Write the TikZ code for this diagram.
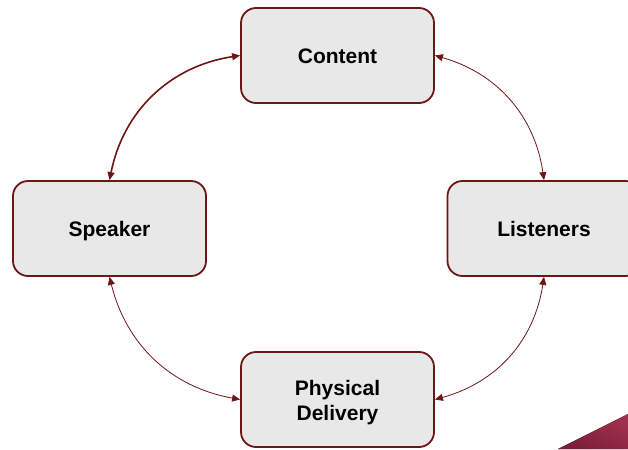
\documentclass[tikz,border=0pt]{standalone}
\usepackage{fontspec}
\setmainfont{Liberation Sans}
\usetikzlibrary{arrows.meta,shapes.misc}
\definecolor{maroon}{HTML}{6E1515}
\definecolor{boxfill}{HTML}{E8E8E8}
\definecolor{bandA}{HTML}{A0304F}
\definecolor{bandB}{HTML}{7A1E38}
\tikzset{
  stagebox/.style={draw=maroon, line width=1.8pt, fill=boxfill, rounded corners=15pt,
    minimum width=193pt, minimum height=95pt, inner sep=0pt, align=center,
    text height=18pt, text depth=2pt,
    font=\fontsize{21}{25.5}\selectfont\bfseries},
  twoline/.style={text height=44pt, text depth=2pt},
  link/.style={draw=maroon, line width=0.8pt, {Triangle[length=8pt,width=7pt]}-{Triangle[length=8pt,width=7pt]}},
  thicklink/.style={link, line width=1.6pt}
}
\begin{document}
\begin{tikzpicture}[x=1pt,y=-1pt]
\useasboundingbox (0,0) rectangle (628,449);
\clip (0,0) rectangle (628,449);
\fill[bottom color=bandB, top color=bandA, shading angle=-27] (558,449) -- (628,414) -- (628,449) -- cycle;
\node[stagebox] (content) at (337.5,55.5) {Content};
\node[stagebox] (speaker) at (109.5,228.5) {Speaker};
\node[stagebox] (listeners) at (544,228.5) {Listeners};
\node[stagebox, twoline] (delivery) at (337.5,399.5) {Physical\\Delivery};
\draw[thicklink] (content.west) to[bend right=35] (speaker.north);
\draw[link] (content.east) to[bend left=33] (listeners.north);
\draw[link] (speaker.south) to[bend right=33] (delivery.west);
\draw[link] (listeners.south) to[bend left=33] (delivery.east);
\end{tikzpicture}
\end{document}
